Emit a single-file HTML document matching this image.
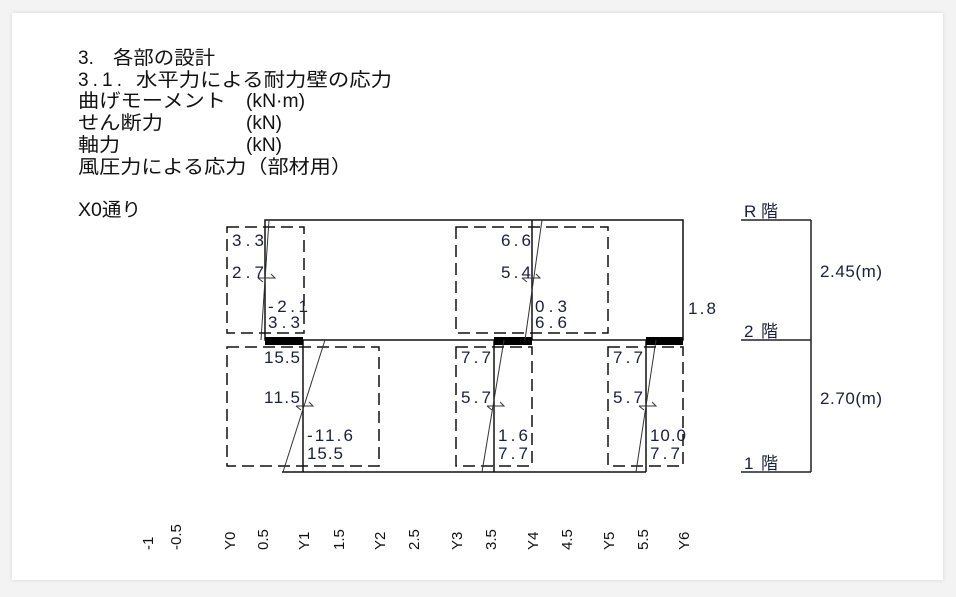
<!DOCTYPE html>
<html><head><meta charset="utf-8"><style>
html,body{margin:0;padding:0;background:#f3f3f3;width:956px;height:597px;overflow:hidden}
.card{position:absolute;left:12px;top:13px;width:931px;height:567px;background:#fff;box-shadow:0 0 4px rgba(0,0,0,.12)}
svg{position:absolute;left:0;top:0}
.t{font-family:"Liberation Sans","Noto Sans CJK JP",sans-serif;font-size:19px;fill:#111}
.n{font-family:"Liberation Sans","Noto Sans CJK JP",sans-serif;font-size:17px;fill:#1a1f3a}
.a{font-family:"Liberation Sans",sans-serif;font-size:15px;fill:#111}
</style></head><body>
<div class="card"></div>
<svg width="956" height="597" viewBox="0 0 956 597">
<g class="t">
<text x="78" y="64">3.</text><text x="113" y="64" textLength="102" lengthAdjust="spacingAndGlyphs">各部の設計</text>
<text x="78" y="86" textLength="44" lengthAdjust="spacing">3.1.</text><text x="136" y="86" textLength="256" lengthAdjust="spacingAndGlyphs">水平力による耐力壁の応力</text>
<text x="78" y="107" textLength="148" lengthAdjust="spacingAndGlyphs">曲げモーメント</text><text x="246" y="107" textLength="59" lengthAdjust="spacingAndGlyphs">(kN·m)</text>
<text x="78" y="129" textLength="85" lengthAdjust="spacingAndGlyphs">せん断力</text><text x="246" y="129" textLength="36" lengthAdjust="spacingAndGlyphs">(kN)</text>
<text x="78" y="151" textLength="42" lengthAdjust="spacingAndGlyphs">軸力</text><text x="246" y="151" textLength="36" lengthAdjust="spacingAndGlyphs">(kN)</text>
<text x="78" y="173" textLength="274" lengthAdjust="spacingAndGlyphs">風圧力による応力（部材用）</text>
<text x="78" y="216" textLength="63" lengthAdjust="spacingAndGlyphs">X0通り</text>
</g>
<g stroke="#111" fill="none" stroke-width="1.5">
<rect x="265" y="220" width="418" height="120"/>
<line x1="532" y1="220" x2="532" y2="340"/>
<line x1="282" y1="472" x2="646" y2="472"/>
<line x1="303" y1="340" x2="303" y2="472"/>
<line x1="494" y1="340" x2="494" y2="472"/>
<line x1="646" y1="340" x2="646" y2="472"/>
</g>
<g fill="#000">
<rect x="265" y="337" width="38" height="8"/>
<rect x="494" y="337" width="38" height="8"/>
<rect x="646" y="337" width="37" height="8"/>
</g>
<g stroke="#111" fill="none" stroke-width="1.5" stroke-dasharray="12,6">
<rect x="227" y="227" width="77" height="106"/>
<rect x="456" y="227" width="152" height="106"/>
<rect x="227" y="347" width="152" height="119"/>
<rect x="456" y="347" width="76" height="119"/>
<rect x="608" y="347" width="75" height="119"/>
</g>
<g stroke="#333" fill="none" stroke-width="1">
<line x1="269" y1="220" x2="261" y2="340"/>
<line x1="542" y1="220" x2="525" y2="340"/>
<line x1="325" y1="340" x2="283" y2="472"/>
<line x1="504" y1="340" x2="482" y2="472"/>
<line x1="656" y1="340" x2="636" y2="472"/>
<path d="M258 278 H275 l-4 -4 M258 278 l5 4"/>
<path d="M522 278 H540 l-4 -4 M522 278 l5 4"/>
<path d="M296 406 H313 l-4 -4 M296 406 l5 4"/>
<path d="M487 406 H504 l-4 -4 M487 406 l5 4"/>
<path d="M639 406 H656 l-4 -4 M639 406 l5 4"/>
</g>
<g class="n">
<text x="232" y="246" textLength="32">3.3</text>
<text x="232" y="278" textLength="32">2.7</text>
<text x="268" y="312" textLength="40">-2.1</text>
<text x="268" y="328" textLength="32">3.3</text>
<text x="501" y="246" textLength="30">6.6</text>
<text x="501" y="278" textLength="30">5.4</text>
<text x="535" y="312" textLength="32">0.3</text>
<text x="535" y="328" textLength="32">6.6</text>
<text x="688" y="314" textLength="28">1.8</text>
<text x="264" y="363" textLength="36">15.5</text>
<text x="264" y="403" textLength="36">11.5</text>
<text x="307" y="441" textLength="46">-11.6</text>
<text x="307" y="459" textLength="36">15.5</text>
<text x="461" y="363" textLength="30">7.7</text>
<text x="461" y="403" textLength="30">5.7</text>
<text x="498" y="441" textLength="30">1.6</text>
<text x="498" y="459" textLength="30">7.7</text>
<text x="613" y="363" textLength="30">7.7</text>
<text x="613" y="403" textLength="30">5.7</text>
<text x="650" y="441" textLength="36">10.0</text>
<text x="650" y="459" textLength="30">7.7</text>
<text x="820" y="277" textLength="62">2.45(m)</text>
<text x="820" y="404" textLength="62">2.70(m)</text>
<text x="744" y="217" textLength="34">R階</text>
<text x="744" y="337" textLength="34">2階</text>
<text x="744" y="469" textLength="34">1階</text>
</g>
<g stroke="#222" stroke-width="1.5">
<line x1="741" y1="220" x2="811" y2="220"/>
<line x1="741" y1="340" x2="811" y2="340"/>
<line x1="741" y1="472" x2="811" y2="472"/>
<line x1="811" y1="220" x2="811" y2="472"/>
</g>
<g class="a" text-anchor="start">
<text transform="translate(153,550) rotate(-90)">-1</text>
<text transform="translate(181,550) rotate(-90)">-0.5</text>
<text transform="translate(235,550) rotate(-90)">Y0</text>
<text transform="translate(268,550) rotate(-90)">0.5</text>
<text transform="translate(309,550) rotate(-90)">Y1</text>
<text transform="translate(344,550) rotate(-90)">1.5</text>
<text transform="translate(385,550) rotate(-90)">Y2</text>
<text transform="translate(419,550) rotate(-90)">2.5</text>
<text transform="translate(462,550) rotate(-90)">Y3</text>
<text transform="translate(496,550) rotate(-90)">3.5</text>
<text transform="translate(538,550) rotate(-90)">Y4</text>
<text transform="translate(572,550) rotate(-90)">4.5</text>
<text transform="translate(614,550) rotate(-90)">Y5</text>
<text transform="translate(648,550) rotate(-90)">5.5</text>
<text transform="translate(689,550) rotate(-90)">Y6</text>
</g>
</svg>
</body></html>
